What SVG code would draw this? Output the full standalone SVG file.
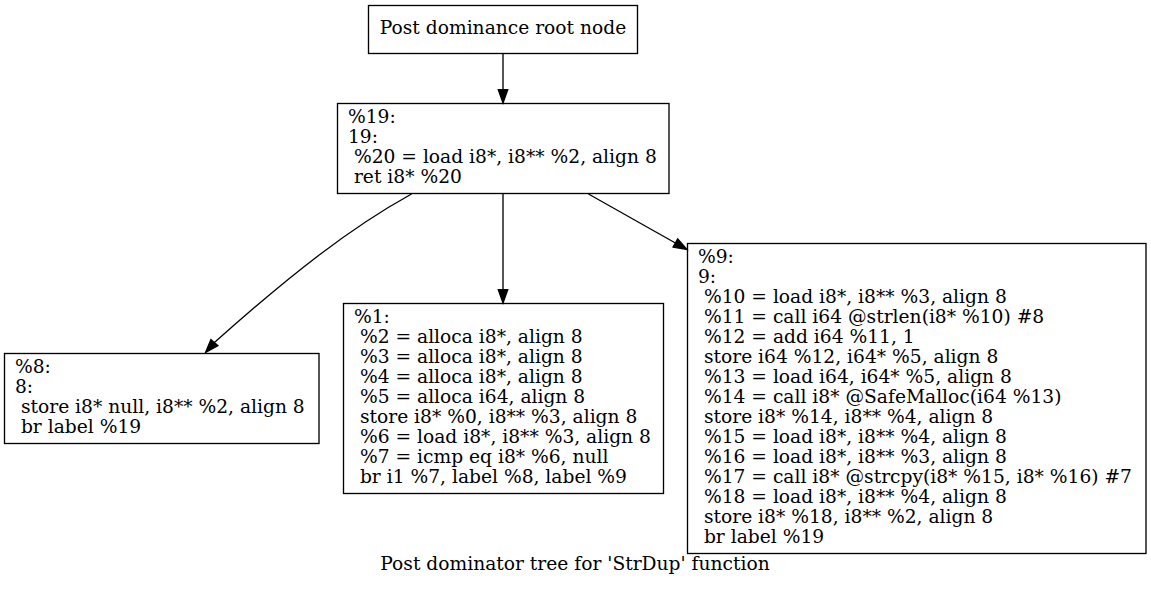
<svg xmlns="http://www.w3.org/2000/svg" width="1151" height="591" viewBox="0 0 1151 591">
<style>
.box{fill:none;stroke:#000;stroke-width:1.33}
.edge{fill:none;stroke:#000;stroke-width:1.33}
.head{fill:#000;stroke:#000;stroke-width:1.33}
text{font-family:"DejaVu Serif",serif;font-size:18.67px;fill:#000;white-space:pre}
</style>
<rect width="1151" height="591" fill="#fff"/>
<g id="connectors">
<path class="edge" d="M503,53.5 L503,89.7"/>
<polygon class="head" points="507.7,89.7 503,103 498.3,89.7"/>
<path class="edge" d="M411.5,194 C350,228 290,275 214.4,342.6"/>
<polygon class="head" points="217.9,345.7 205.5,352.5 210.9,339.5"/>
<path class="edge" d="M503,194 L503,289.7"/>
<polygon class="head" points="507.7,289.7 503,303 498.3,289.7"/>
<path class="edge" d="M588.5,194 L675.4,243"/>
<polygon class="head" points="673.1,247.1 687,249.5 677.7,238.9"/>
</g>
<g id="root">
<rect class="box" x="368.5" y="5.5" width="269" height="48"/>
<text x="503" y="34.3" text-anchor="middle">Post dominance root node</text>
</g>
<g id="n19">
<rect class="box" x="337.5" y="103.5" width="331.5" height="90"/>
<text xml:space="preserve" x="348" y="123.3">%19:</text>
<text xml:space="preserve" x="348" y="143.3">19:</text>
<text xml:space="preserve" x="348" y="163.3"> %20 = load i8*, i8** %2, align 8</text>
<text xml:space="preserve" x="348" y="183.3"> ret i8* %20</text>
</g>
<g id="n8">
<rect class="box" x="4.5" y="353.5" width="314.5" height="90"/>
<text xml:space="preserve" x="15" y="373.3">%8:</text>
<text xml:space="preserve" x="15" y="393.3">8:</text>
<text xml:space="preserve" x="15" y="413.3"> store i8* null, i8** %2, align 8</text>
<text xml:space="preserve" x="15" y="433.3"> br label %19</text>
</g>
<g id="n1">
<rect class="box" x="343.5" y="303.5" width="320" height="190"/>
<text xml:space="preserve" x="354" y="323.3">%1:</text>
<text xml:space="preserve" x="354" y="343.3"> %2 = alloca i8*, align 8</text>
<text xml:space="preserve" x="354" y="363.3"> %3 = alloca i8*, align 8</text>
<text xml:space="preserve" x="354" y="383.3"> %4 = alloca i8*, align 8</text>
<text xml:space="preserve" x="354" y="403.3"> %5 = alloca i64, align 8</text>
<text xml:space="preserve" x="354" y="423.3"> store i8* %0, i8** %3, align 8</text>
<text xml:space="preserve" x="354" y="443.3"> %6 = load i8*, i8** %3, align 8</text>
<text xml:space="preserve" x="354" y="463.3"> %7 = icmp eq i8* %6, null</text>
<text xml:space="preserve" x="354" y="483.3"> br i1 %7, label %8, label %9</text>
</g>
<g id="n9">
<rect class="box" x="687.5" y="243.5" width="458.5" height="310"/>
<text xml:space="preserve" x="698" y="263.3">%9:</text>
<text xml:space="preserve" x="698" y="283.3">9:</text>
<text xml:space="preserve" x="698" y="303.3"> %10 = load i8*, i8** %3, align 8</text>
<text xml:space="preserve" x="698" y="323.3"> %11 = call i64 @strlen(i8* %10) #8</text>
<text xml:space="preserve" x="698" y="343.3"> %12 = add i64 %11, 1</text>
<text xml:space="preserve" x="698" y="363.3"> store i64 %12, i64* %5, align 8</text>
<text xml:space="preserve" x="698" y="383.3"> %13 = load i64, i64* %5, align 8</text>
<text xml:space="preserve" x="698" y="403.3"> %14 = call i8* @SafeMalloc(i64 %13)</text>
<text xml:space="preserve" x="698" y="423.3"> store i8* %14, i8** %4, align 8</text>
<text xml:space="preserve" x="698" y="443.3"> %15 = load i8*, i8** %4, align 8</text>
<text xml:space="preserve" x="698" y="463.3"> %16 = load i8*, i8** %3, align 8</text>
<text xml:space="preserve" x="698" y="483.3"> %17 = call i8* @strcpy(i8* %15, i8* %16) #7</text>
<text xml:space="preserve" x="698" y="503.3"> %18 = load i8*, i8** %4, align 8</text>
<text xml:space="preserve" x="698" y="523.3"> store i8* %18, i8** %2, align 8</text>
<text xml:space="preserve" x="698" y="543.3"> br label %19</text>
</g>
<g id="caption">
<text x="575" y="570" text-anchor="middle">Post dominator tree for 'StrDup' function</text>
</g>
</svg>
